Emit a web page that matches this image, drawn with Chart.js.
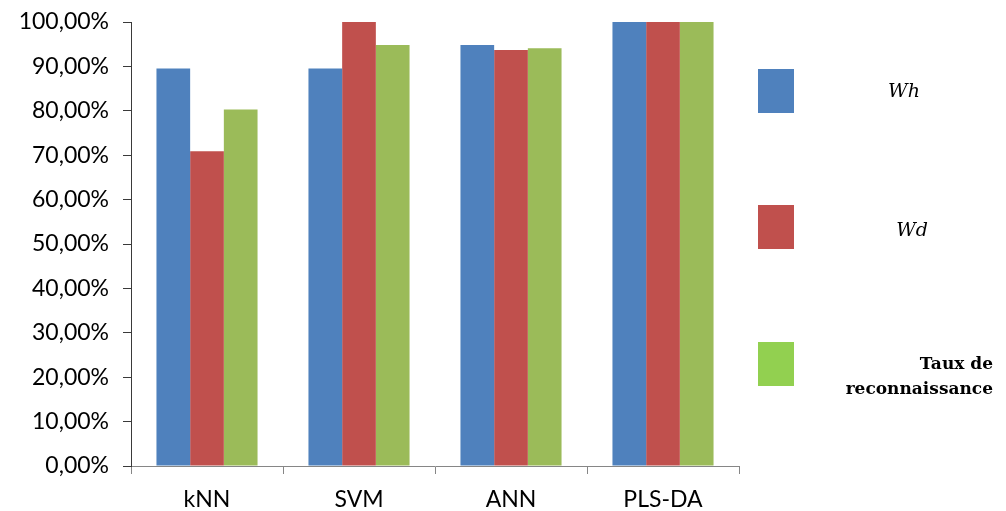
<!DOCTYPE html>
<html lang="fr">
<head>
    <meta charset="UTF-8">
    <title>Taux de reconnaissance</title>
    <script src="https://cdn.jsdelivr.net/npm/chart.js"></script>
    <style>
        html, body {
            margin: 0;
            padding: 0;
            background: #ffffff;
        }

        #chart-box {
            width: 1006px;
            height: 511px;
        }
    </style>
</head>
<body>

<div id="chart-box">
    <canvas id="rateChart" width="1006" height="511"></canvas>
</div>

<script>
    // data
    var methods = ['kNN', 'SVM', 'ANN', 'PLS-DA'];
    var whValues = [89.5, 89.5, 94.8, 100];
    var wdValues = [70.9, 100, 93.7, 100];
    var tauxValues = [80.3, 94.8, 94.1, 100];
    var yTicks = [0, 10, 20, 30, 40, 50, 60, 70, 80, 90, 100];

    var barColors = ['#4f81bd', '#c0504d', '#9bbb59'];
    var legendColors = ['#4f81bd', '#c0504d', '#92d050'];

    function pct(v) {
        return v.toFixed(2).replace('.', ',') + '%';
    }

    // legend on the right, drawn by hand to match the original layout
    var sideLegend = {
        id: 'sideLegend',
        afterDraw: function (chart) {
            var ctx = chart.ctx;
            var boxes = [69, 205, 342];
            ctx.save();
            for (var i = 0; i < boxes.length; i++) {
                ctx.fillStyle = legendColors[i];
                ctx.fillRect(758, boxes[i], 36, 44);
            }
            ctx.fillStyle = '#000000';
            ctx.textBaseline = 'middle';

            ctx.font = 'italic 19px "DejaVu Serif"';
            ctx.textAlign = 'center';
            ctx.fillText('Wh', 904, 92);
            ctx.fillText('Wd', 912, 231);

            ctx.font = 'bold 17px "DejaVu Serif"';
            ctx.textAlign = 'right';
            ctx.fillText('Taux de', 993, 365);
            ctx.fillText('reconnaissance', 993, 390);
            ctx.restore();
        }
    };

    var ctx = document.getElementById('rateChart').getContext('2d');
    var rateChart = new Chart(ctx, {
        type: 'bar',
        data: {
            labels: methods,
            datasets: [
                { label: 'Wh', data: whValues, backgroundColor: barColors[0] },
                { label: 'Wd', data: wdValues, backgroundColor: barColors[1] },
                { label: 'Taux de reconnaissance', data: tauxValues, backgroundColor: barColors[2] }
            ]
        },
        options: {
            responsive: false,
            animation: false,
            layout: {
                padding: { top: 22, right: 267, bottom: 0, left: 0 }
            },
            datasets: {
                bar: {
                    categoryPercentage: 0.665,
                    barPercentage: 1.0
                }
            },
            plugins: {
                legend: { display: false },
                tooltip: { enabled: false }
            },
            scales: {
                x: {
                    afterFit: function (axis) {
                        axis.height = 45;
                    },
                    grid: {
                        offset: true,
                        drawOnChartArea: false,
                        color: '#868686',
                        tickLength: 8
                    },
                    border: { color: '#868686', width: 1 },
                    ticks: {
                        color: '#000000',
                        font: { family: 'Lato', size: 23 },
                        padding: 12
                    }
                },
                y: {
                    min: 0,
                    max: 100,
                    afterBuildTicks: function (axis) {
                        axis.ticks = yTicks.map(function (v) { return { value: v }; });
                    },
                    afterFit: function (axis) {
                        axis.width = 131;
                        axis.paddingTop = 0;
                    },
                    grid: {
                        drawOnChartArea: false,
                        color: '#3a3a3a',
                        tickLength: 8
                    },
                    border: { color: '#3a3a3a', width: 1 },
                    ticks: {
                        color: '#000000',
                        font: { family: 'Lato', size: 23, lineHeight: 1 },
                        padding: 14,
                        callback: function (v) { return pct(v); }
                    }
                }
            }
        },
        plugins: [sideLegend]
    });
</script>

</body>
</html>
